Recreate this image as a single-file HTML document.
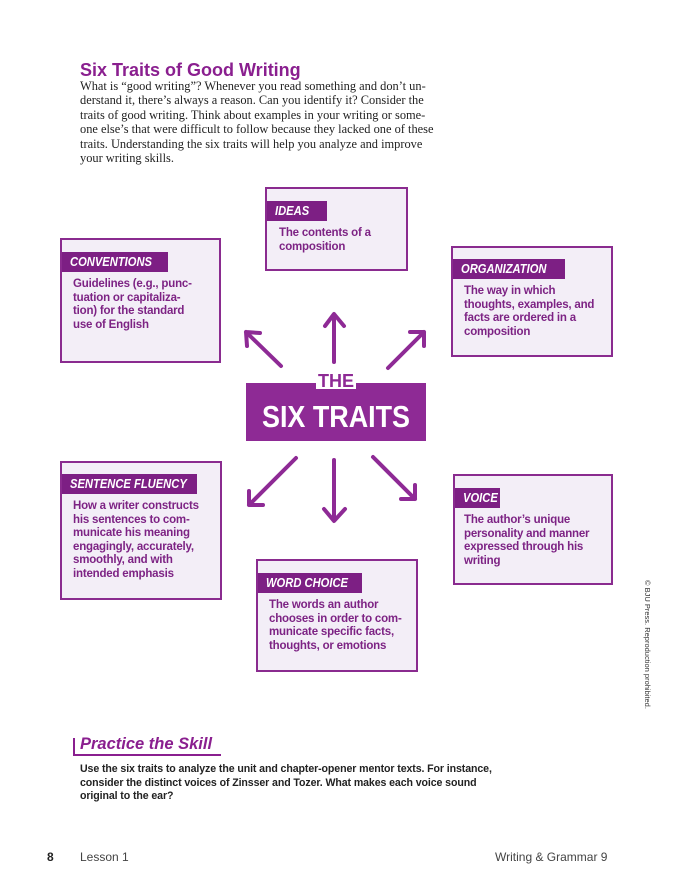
<!DOCTYPE html>
<html><head><meta charset="utf-8"><style>
body{margin:0;background:#fff;}
#p{position:relative;width:700px;height:896px;overflow:hidden;font-family:"Liberation Sans",sans-serif;}
.a{position:absolute;}
.box{position:absolute;border:2px solid #8a2b8f;background:#f3eef7;box-sizing:border-box;}
.lab{position:absolute;background:#7d1f84;color:#fff;font-weight:bold;font-style:italic;font-size:13px;line-height:20px;padding-left:8px;box-sizing:border-box;white-space:nowrap;overflow:hidden;}
.lab span{display:inline-block;transform:scaleX(.86);transform-origin:left center;}
.txt{position:absolute;color:#7d2384;font-weight:bold;font-size:11.5px;line-height:13.6px;white-space:nowrap;letter-spacing:-0.2px;}
.body{font-family:"Liberation Serif",serif;font-size:12.4px;line-height:14.4px;color:#222;white-space:nowrap;}
</style></head><body><div id="p">
<div class="a" style="left:80px;top:60px;font-size:18px;font-weight:bold;color:#8a1f8f;">Six Traits of Good Writing</div>
<div class="a body" style="left:80px;top:79px;">What is “good writing”? Whenever you read something and don’t un-<br>derstand it, there’s always a reason. Can you identify it? Consider the<br>traits of good writing. Think about examples in your writing or some-<br>one else’s that were difficult to follow because they lacked one of these<br>traits. Understanding the six traits will help you analyze and improve<br>your writing skills.</div>

<div class="box" style="left:265px;top:187px;width:143px;height:84px;"></div>
<div class="lab" style="left:267px;top:201px;width:60px;"><span>IDEAS</span></div>
<div class="txt" style="left:279px;top:227px;">The contents of a<br>composition</div>

<div class="box" style="left:60px;top:238px;width:161px;height:125px;"></div>
<div class="lab" style="left:62px;top:252px;width:106px;"><span>CONVENTIONS</span></div>
<div class="txt" style="left:73px;top:278px;">Guidelines (e.g., punc-<br>tuation or capitaliza-<br>tion) for the standard<br>use of English</div>

<div class="box" style="left:451px;top:246px;width:162px;height:111px;"></div>
<div class="lab" style="left:453px;top:259px;width:112px;"><span>ORGANIZATION</span></div>
<div class="txt" style="left:464px;top:285px;">The way in which<br>thoughts, examples, and<br>facts are ordered in a<br>composition</div>

<div class="box" style="left:60px;top:461px;width:162px;height:139px;"></div>
<div class="lab" style="left:62px;top:474px;width:135px;"><span>SENTENCE FLUENCY</span></div>
<div class="txt" style="left:73px;top:500px;">How a writer constructs<br>his sentences to com-<br>municate his meaning<br>engagingly, accurately,<br>smoothly, and with<br>intended emphasis</div>

<div class="box" style="left:453px;top:474px;width:160px;height:111px;"></div>
<div class="lab" style="left:455px;top:488px;width:45px;"><span>VOICE</span></div>
<div class="txt" style="left:464px;top:514px;">The author’s unique<br>personality and manner<br>expressed through his<br>writing</div>

<div class="box" style="left:256px;top:559px;width:162px;height:113px;"></div>
<div class="lab" style="left:258px;top:573px;width:104px;"><span>WORD CHOICE</span></div>
<div class="txt" style="left:269px;top:599px;">The words an author<br>chooses in order to com-<br>municate specific facts,<br>thoughts, or emotions</div>

<svg class="a" style="left:0;top:0" width="700" height="896">
<g stroke="#8e2a95" stroke-width="4" fill="none" stroke-linecap="round" stroke-linejoin="round">
<path d="M334 362 V315 M325 326 L334 314 L344 326"/>
<path d="M281 366 L246 332 M247 346 L246 332 L260 333"/>
<path d="M388 368 L424 332 M410 332 L424 332 L424 346"/>
<path d="M334 460 V520 M324 509 L334 521 L345 509"/>
<path d="M296 458 L249 505 M249 491 L249 505 L263 505"/>
<path d="M373 457 L415 499 M415 485 L415 499 L401 499"/>
</g>
<rect x="246" y="383" width="180" height="58" fill="#8e2a95"/>
<rect x="316" y="367" width="40" height="22" fill="#fff"/>
<text x="336" y="387" text-anchor="middle" font-family="Liberation Sans" font-weight="bold" font-size="18" fill="#8e2a95">THE</text>
<text x="336" y="427" text-anchor="middle" font-family="Liberation Sans" font-weight="bold" font-size="31" fill="#fff" textLength="148" lengthAdjust="spacingAndGlyphs">SIX TRAITS</text>
</svg>

<div class="a" style="left:652px;top:580px;transform-origin:0 0;transform:rotate(90deg);font-size:7.5px;color:#333;white-space:nowrap;">© BJU Press. Reproduction prohibited.</div>

<div class="a" style="left:73px;top:738px;width:2px;height:18px;background:#8a1f8f;"></div>
<div class="a" style="left:73px;top:754px;width:148px;height:2px;background:#8a1f8f;"></div>
<div class="a" style="left:80px;top:735px;font-size:16.5px;font-weight:bold;font-style:italic;color:#8a1f8f;">Practice the Skill</div>
<div class="a" style="left:80px;top:763px;font-size:10.6px;line-height:13.6px;font-weight:bold;color:#222;white-space:nowrap;letter-spacing:-0.1px;">Use the six traits to analyze the unit and chapter-opener mentor texts. For instance,<br>consider the distinct voices of Zinsser and Tozer. What makes each voice sound<br>original to the ear?</div>

<div class="a" style="left:47px;top:850px;font-size:12px;font-weight:bold;color:#222;">8</div>
<div class="a" style="left:80px;top:850px;font-size:12px;color:#444;">Lesson 1</div>
<div class="a" style="left:495px;top:850px;font-size:12px;color:#444;">Writing &amp; Grammar 9</div>
</div></body></html>
